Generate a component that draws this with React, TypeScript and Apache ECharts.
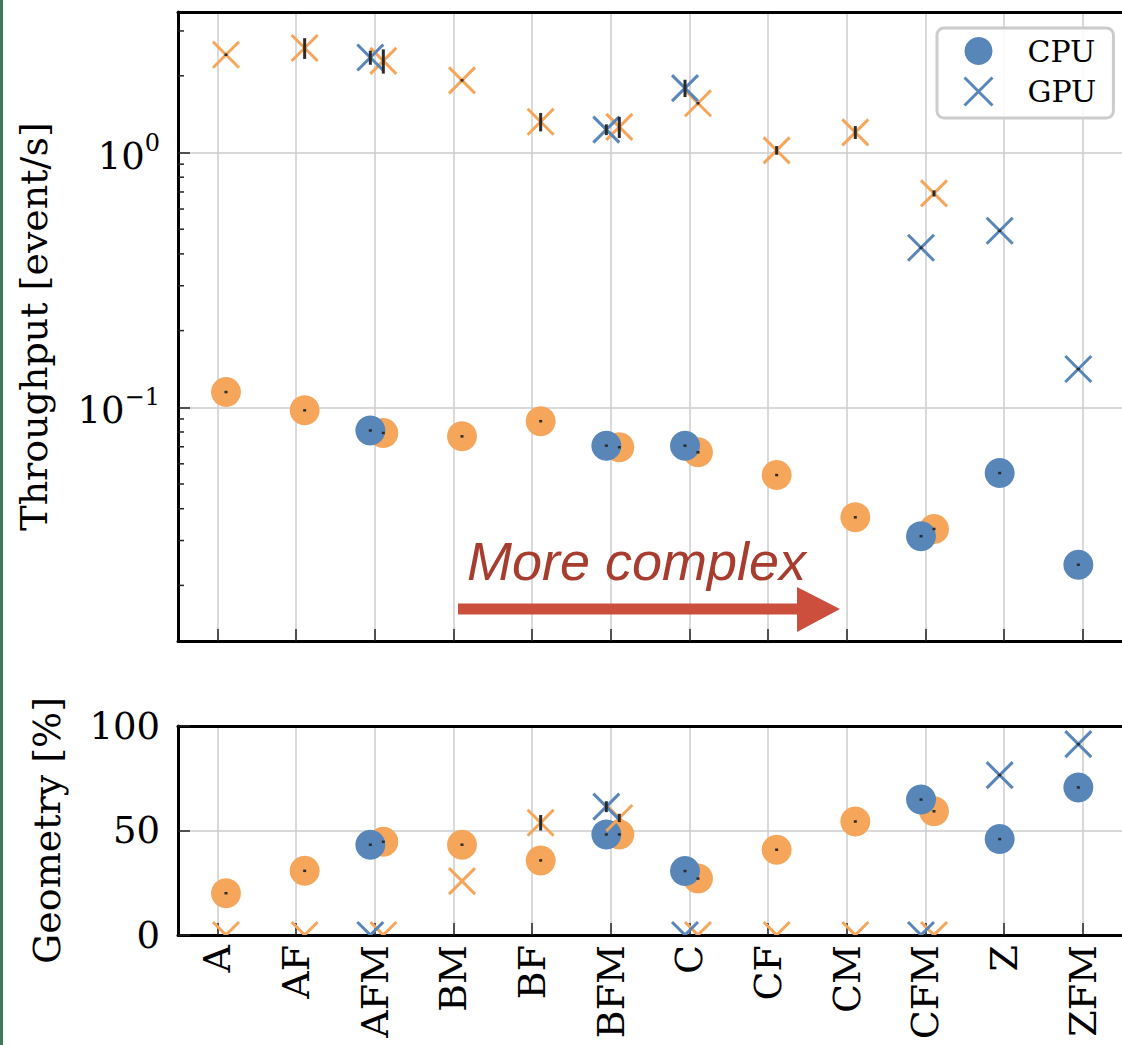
import React, { useEffect, useRef } from 'react';
import * as echarts from 'echarts';

// ---------------- data ----------------
const CATEGORIES = ['A', 'AF', 'AFM', 'BM', 'BF', 'BFM', 'C', 'CF', 'CM', 'CFM', 'Z', 'ZFM'];

// Throughput [event/s] (top panel, log scale)
const THR_CPU_BLUE = [null, null, 0.0811, null, null, 0.0707, 0.0707, null, null, 0.0312, 0.0552, 0.0241];
const THR_CPU_ORANGE = [0.1148, 0.0973, 0.0793, 0.0769, 0.0882, 0.0697, 0.0666, 0.0542, 0.037, 0.0333, null, null];
const THR_GPU_BLUE = [null, null, 2.36, null, null, 1.23, 1.79, null, null, 0.423, 0.493, 0.1414];
const THR_GPU_ORANGE = [2.42, 2.57, 2.29, 1.92, 1.32, 1.26, 1.56, 1.02, 1.2, 0.691, null, null];
const THR_CPU_BLUE_ERR = [0, 0, 0.0005, 0, 0, 0.0005, 0.0008, 0, 0, 0.0002, 0.0003, 0.0002];
const THR_CPU_ORANGE_ERR = [0.0005, 0.0005, 0.0004, 0.0004, 0.0004, 0.0004, 0.0004, 0.0003, 0.0002, 0.0002, 0, 0];
const THR_GPU_BLUE_ERR = [0, 0, 0.15, 0, 0, 0.06, 0.14, 0, 0, 0.003, 0.003, 0.001];
const THR_GPU_ORANGE_ERR = [0.01, 0.24, 0.25, 0.01, 0.11, 0.12, 0.01, 0.04, 0.07, 0.019, 0, 0];

// Geometry [%] (bottom panel)
const GEO_CPU_BLUE = [null, null, 43.2, null, null, 48.1, 30.6, null, null, 64.8, 45.9, 70.6];
const GEO_CPU_ORANGE = [20.0, 30.7, 44.6, 43.2, 35.7, 48.1, 27.0, 40.8, 54.3, 59.2, null, null];
const GEO_GPU_BLUE = [null, null, 0, null, null, 61.4, 0, null, null, 0, 76.5, 91.3];
const GEO_GPU_ORANGE = [0, 0, 0, 25.8, 53.7, 56.0, 0, 0, 0, 0, null, null];
const GEO_CPU_BLUE_ERR = [0, 0, 0.2, 0, 0, 0.2, 0.6, 0, 0, 0.2, 0.2, 0.2];
const GEO_CPU_ORANGE_ERR = [0.2, 0.2, 0.2, 0.2, 0.2, 0.2, 0.2, 0.2, 0.2, 0.2, 0, 0];
const GEO_GPU_BLUE_ERR = [0, 0, 0, 0, 0, 2.6, 0, 0, 0, 0, 0.2, 0.2];
const GEO_GPU_ORANGE_ERR = [0, 0, 0, 0, 3.7, 2.0, 0, 0, 0, 0, 0, 0];

// axis ranges / ticks
const THR_MIN = 0.0121;
const THR_MAX = 3.56;
const THR_MINOR_TICKS = [0.02, 0.03, 0.04, 0.05, 0.06, 0.07, 0.08, 0.09, 0.2, 0.3, 0.4, 0.5, 0.6, 0.7, 0.8, 0.9, 2, 3];
const GEO_MIN = 0;
const GEO_MAX = 100;
const GEO_INTERVAL = 50;

// ---------------- styles ----------------
const BLUE = '#5886b9';
const ORANGE = '#f5a65b';
const ERR_COLOR = '#2b2b2b';
const GRID_COLOR = '#cccccc';
const SERIF = '"DejaVu Serif", serif';
const OFFSET_BLUE = -0.055;
const OFFSET_ORANGE = 0.11;
const CIRCLE_SIZE = 30;
const CROSS_HALF = 13;

function pts(values: (number | null)[], offset: number) {
  const out: number[][] = [];
  values.forEach((v, i) => {
    if (v !== null && v !== undefined) out.push([i + offset, v]);
  });
  return out;
}

function errPts(values: (number | null)[], errs: number[], offset: number) {
  const out: number[][] = [];
  values.forEach((v, i) => {
    if (v !== null && v !== undefined && errs[i] > 0) out.push([i + offset, v, errs[i]]);
  });
  return out;
}

function circleSeries(name: string, values: (number | null)[], offset: number, color: string, xi: number, yi: number, z: number) {
  return {
    type: 'scatter',
    name,
    xAxisIndex: xi,
    yAxisIndex: yi,
    symbol: 'circle',
    symbolSize: CIRCLE_SIZE,
    itemStyle: { color, opacity: 1 },
    z,
    data: pts(values, offset),
  };
}

function crossSeries(name: string, values: (number | null)[], offset: number, color: string, xi: number, yi: number, z: number) {
  return {
    type: 'custom',
    name,
    xAxisIndex: xi,
    yAxisIndex: yi,
    clip: true,
    z,
    itemStyle: { color },
    encode: { x: 0, y: 1 },
    data: pts(values, offset),
    renderItem: (params: any, api: any) => {
      const p = api.coord([api.value(0), api.value(1)]);
      const h = CROSS_HALF;
      const st = { stroke: color, lineWidth: 3, fill: 'none' };
      return {
        type: 'group',
        children: [
          { type: 'line', shape: { x1: p[0] - h, y1: p[1] - h, x2: p[0] + h, y2: p[1] + h }, style: st },
          { type: 'line', shape: { x1: p[0] - h, y1: p[1] + h, x2: p[0] + h, y2: p[1] - h }, style: st },
        ],
      };
    },
  };
}

function errSeries(name: string, values: (number | null)[], errs: number[], offset: number, xi: number, yi: number) {
  return {
    type: 'custom',
    name,
    xAxisIndex: xi,
    yAxisIndex: yi,
    z: 10,
    clip: true,
    encode: { x: 0, y: 1 },
    data: errPts(values, errs, offset),
    renderItem: (params: any, api: any) => {
      const x = api.value(0);
      const y = api.value(1);
      const e = api.value(2);
      const c = api.coord([x, y]);
      const t = api.coord([x, y + e]);
      const b = api.coord([x, Math.max(y - e, 1e-9)]);
      const h = Math.max(Math.abs(b[1] - t[1]), 2.5);
      const mid = (t[1] + b[1]) / 2;
      return {
        type: 'rect',
        shape: { x: c[0] - 1.5, y: mid - h / 2, width: 3, height: h },
        style: { fill: ERR_COLOR },
      };
    },
  };
}

function minorTickSeries() {
  return {
    type: 'custom',
    name: 'minor',
    xAxisIndex: 1,
    yAxisIndex: 0,
    z: 5,
    silent: true,
    encode: { x: 0, y: 1 },
    data: THR_MINOR_TICKS.map((v) => [-0.5, v]),
    renderItem: (params: any, api: any) => {
      const p = api.coord([api.value(0), api.value(1)]);
      return {
        type: 'line',
        shape: { x1: p[0], y1: p[1], x2: p[0] + 6, y2: p[1] },
        style: { stroke: '#222', lineWidth: 1.5 },
      };
    },
  };
}

const X_ICON = 'path://M0,0L10,10M0,10L10,0';

export default function App() {
  const ref = useRef<HTMLDivElement>(null);

  useEffect(() => {
    if (!ref.current) return;
    const chart = echarts.init(ref.current, null, { renderer: 'svg' });

    const catAxis = (gridIndex: number, showLabels: boolean) => ({
      type: 'category',
      gridIndex,
      position: 'bottom',
      data: CATEGORIES,
      boundaryGap: true,
      axisLine: { show: true, onZero: false, lineStyle: { color: '#000', width: 3 } },
      axisTick: { show: true, inside: true, alignWithLabel: true, interval: 0, length: 12, lineStyle: { color: '#222', width: 1.5 } },
      axisLabel: {
        show: showLabels,
        interval: 0,
        rotate: 90,
        margin: 10,
        fontFamily: SERIF,
        fontSize: 38,
        color: '#000',
      },
      splitLine: { show: true, alignWithLabel: true, interval: 0, lineStyle: { color: GRID_COLOR, width: 1.5 } },
    });

    const valXAxis = (gridIndex: number) => ({
      type: 'value',
      gridIndex,
      position: 'top',
      min: -0.5,
      max: 11.5,
      axisLine: { show: true, onZero: false, lineStyle: { color: '#000', width: 3 } },
      axisTick: { show: false },
      axisLabel: { show: false },
      splitLine: { show: false },
    });

    const option: any = {
      animation: false,
      backgroundColor: '#ffffff',
      grid: [
        { left: 178, right: -4, top: 12, height: 629, containLabel: false },
        { left: 178, right: -4, top: 726, height: 209, containLabel: false },
      ],
      xAxis: [catAxis(0, false), valXAxis(0), catAxis(1, true), valXAxis(1)],
      yAxis: [
        {
          type: 'log',
          logBase: 10,
          gridIndex: 0,
          min: THR_MIN,
          max: THR_MAX,
          axisLine: { show: true, onZero: false, lineStyle: { color: '#000', width: 3 } },
          axisTick: { show: true, inside: true, length: 12, lineStyle: { color: '#222', width: 1.5 } },
          axisLabel: {
            margin: 18,
            showMinLabel: false,
            showMaxLabel: false,
            color: '#000',
            formatter: (v: number) => {
              const e = Math.round(Math.log10(v));
              const s = e < 0 ? '\u2212' + String(-e) : String(e);
              return '{b|10}{s|' + s + '}';
            },
            rich: {
              b: { fontFamily: SERIF, fontSize: 37, color: '#000', lineHeight: 44, verticalAlign: 'bottom' },
              s: { fontFamily: SERIF, fontSize: 24, color: '#000', verticalAlign: 'top' },
            },
          },
          splitLine: { show: true, lineStyle: { color: GRID_COLOR, width: 1.5 } },
          name: 'Throughput [event/s]',
          nameLocation: 'middle',
          nameGap: 125,
          nameTextStyle: { fontFamily: SERIF, fontSize: 38, color: '#000' },
        },
        {
          type: 'value',
          gridIndex: 1,
          min: GEO_MIN,
          max: GEO_MAX,
          interval: GEO_INTERVAL,
          axisLine: { show: true, onZero: false, lineStyle: { color: '#000', width: 3 } },
          axisTick: { show: true, inside: true, length: 12, lineStyle: { color: '#222', width: 1.5 } },
          axisLabel: { margin: 18, fontFamily: SERIF, fontSize: 37, color: '#000' },
          splitLine: { show: true, lineStyle: { color: GRID_COLOR, width: 1.5 } },
          name: 'Geometry [%]',
          nameLocation: 'middle',
          nameGap: 112,
          nameTextStyle: { fontFamily: SERIF, fontSize: 38, color: '#000' },
        },
      ],
      legend: {
        left: 937,
        top: 28,
        orient: 'vertical',
        selectedMode: false,
        itemWidth: 30,
        itemHeight: 28,
        itemGap: 10,
        padding: [8, 17, 11, 26],
        borderColor: '#cccccc',
        borderWidth: 3,
        borderRadius: 7,
        backgroundColor: 'rgba(255,255,255,0.85)',
        textStyle: { fontFamily: SERIF, fontSize: 30, color: '#000', padding: [0, 0, 0, 29] },
        data: [
          { name: 'CPU', icon: 'circle', itemStyle: { color: BLUE } },
          { name: 'GPU', icon: X_ICON, itemStyle: { color: 'rgba(0,0,0,0)', borderColor: BLUE, borderWidth: 3 } },
        ],
      },
      graphic: [
        { type: 'rect', left: 0, top: 0, shape: { x: 0, y: 0, width: 3, height: 1045 }, style: { fill: '#3d7a58' }, z: 100 },
        {
          type: 'polygon',
          z: 50,
          shape: {
            points: [
              [458, 603.5], [797, 603.5], [797, 587], [840, 609], [797, 632], [797, 614.5], [458, 614.5],
            ],
          },
          style: { fill: '#cc4f3d' },
        },
        {
          type: 'text',
          z: 50,
          style: {
            x: 467,
            y: 561,
            text: 'More complex',
            fontFamily: '"Liberation Sans", Arial, sans-serif',
            fontStyle: 'italic',
            fontSize: 54,
            fill: '#a63d2f',
            verticalAlign: 'middle',
            align: 'left',
          },
        },
      ],
      series: [
        // top panel
        minorTickSeries(),
        circleSeries('CPU-o', THR_CPU_ORANGE, OFFSET_ORANGE, ORANGE, 1, 0, 2),
        circleSeries('CPU', THR_CPU_BLUE, OFFSET_BLUE, BLUE, 1, 0, 3),
        crossSeries('GPU-o', THR_GPU_ORANGE, OFFSET_ORANGE, ORANGE, 1, 0, 4),
        crossSeries('GPU', THR_GPU_BLUE, OFFSET_BLUE, BLUE, 1, 0, 5),
        errSeries('err1', THR_CPU_ORANGE, THR_CPU_ORANGE_ERR, OFFSET_ORANGE, 1, 0),
        errSeries('err2', THR_CPU_BLUE, THR_CPU_BLUE_ERR, OFFSET_BLUE, 1, 0),
        errSeries('err3', THR_GPU_ORANGE, THR_GPU_ORANGE_ERR, OFFSET_ORANGE, 1, 0),
        errSeries('err4', THR_GPU_BLUE, THR_GPU_BLUE_ERR, OFFSET_BLUE, 1, 0),
        // bottom panel
        circleSeries('CPU-o', GEO_CPU_ORANGE, OFFSET_ORANGE, ORANGE, 3, 1, 2),
        circleSeries('CPU', GEO_CPU_BLUE, OFFSET_BLUE, BLUE, 3, 1, 3),
        crossSeries('GPU-o', GEO_GPU_ORANGE, OFFSET_ORANGE, ORANGE, 3, 1, 4),
        crossSeries('GPU', GEO_GPU_BLUE, OFFSET_BLUE, BLUE, 3, 1, 5),
        errSeries('err5', GEO_CPU_ORANGE, GEO_CPU_ORANGE_ERR, OFFSET_ORANGE, 3, 1),
        errSeries('err6', GEO_CPU_BLUE, GEO_CPU_BLUE_ERR, OFFSET_BLUE, 3, 1),
        errSeries('err7', GEO_GPU_ORANGE, GEO_GPU_ORANGE_ERR, OFFSET_ORANGE, 3, 1),
        errSeries('err8', GEO_GPU_BLUE, GEO_GPU_BLUE_ERR, OFFSET_BLUE, 3, 1),
      ],
    };

    chart.setOption(option);
    return () => {
      chart.dispose();
    };
  }, []);

  return (
    <div
      ref={ref}
      style={{ position: 'absolute', left: 0, top: 0, width: 1122, height: 1045, background: '#fff' }}
    />
  );
}
